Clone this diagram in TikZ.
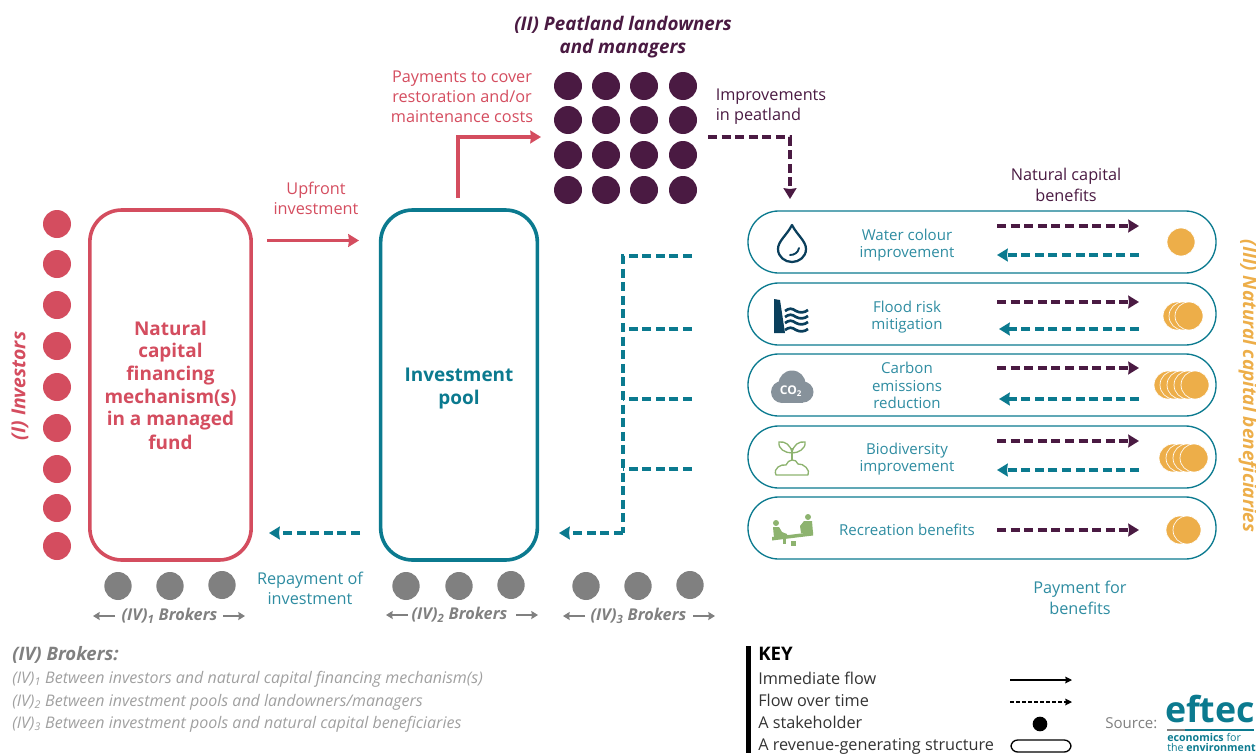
\documentclass[tikz,border=0pt]{standalone}
\usepackage{fontspec}
\setmainfont{Open Sans}
\usetikzlibrary{arrows.meta,positioning,shapes.geometric}
\definecolor{cred}{HTML}{D44D5F}
\definecolor{cteal}{HTML}{0B7A8F}
\definecolor{ctealtx}{HTML}{2E8CA1}
\definecolor{cplum}{HTML}{4A1A42}
\definecolor{cgold}{HTML}{EDAE49}
\definecolor{cgrey}{HTML}{808080}
\definecolor{cgreyl}{HTML}{A0A0A0}
\definecolor{cnavy}{HTML}{0A3F5C}
\definecolor{cgreen}{HTML}{8DB36F}
\definecolor{cslate}{HTML}{87929B}
\newcommand{\fs}[1]{\fontsize{#1}{#1}\selectfont}
\tikzset{
 x=0.75pt,y=-0.75pt,
 dotb/.style={circle,minimum size=21pt,inner sep=0pt,fill=#1},
 brk/.style={ellipse,minimum width=20.5pt,minimum height=21pt,inner sep=0pt,fill=cgrey},
 coin/.style={circle,minimum size=21pt,inner sep=0pt,fill=cgold,draw=white,line width=.5pt},
 bigbox/.style={draw=#1,line width=2.7pt,rounded corners=24pt,fill=white,text=#1,font=\fs{14.2}\bfseries,align=center,inner sep=0pt},
 pill/.style={draw=cteal,line width=1pt,rounded corners=23pt,minimum width=351pt,minimum height=46.5pt,inner sep=0pt},
 lab/.style={font=\fs{12.2},align=center,inner sep=0pt,text=ctealtx},
 pilltx/.style={lab,font=\fs{11.3},text depth=0pt},
 immed/.style={draw=#1,line width=2.3pt,-{Stealth[length=8pt,width=9.5pt,inset=.5pt]}},
 flow/.style={draw=#1,dash pattern=on 6.8pt off 3.4pt,line width=2.3pt,-{Stealth[length=8pt,width=9.5pt,inset=.5pt]}},
 flowp/.style={draw=#1,dash pattern=on 6.8pt off 3.4pt,line width=2.3pt},
 brtx/.style={font=\fs{12.2}\bfseries\itshape,text=cgrey,inner sep=0pt},
 grarr/.style={draw=cgrey,line width=1.3pt,-{Stealth[length=5pt,width=6pt,inset=.5pt]}},
 keytx/.style={font=\fs{12.2},anchor=base west,inner sep=0pt,text=black!80},
 notetx/.style={font=\fs{12}\itshape,anchor=base west,inner sep=0pt,text=cgreyl},
 keyarr/.style={line width=1pt,-{Stealth[length=5pt,width=5pt,inset=.5pt]}},
}
\begin{document}
\begin{tikzpicture}
\useasboundingbox (0,0) rectangle (1256,753);
% investors
\foreach \n/\y in {1/224,2/264,3/305,4/346,5/387,6/428,7/469,8/508,9/546}
  \node[dotb=cred] (inv\n) at (57,\y) {};
\node[rotate=90,font=\fs{14.5}\bfseries\itshape,text=cred,inner sep=0pt] (invlab) at (20,386) {(I) Investors};
% big boxes
\node[bigbox=cred,minimum width=121pt,minimum height=262.5pt] (mech) at (170.5,385) {Natural\\[2.5pt]capital\\[2.5pt]financing\\[2.5pt]mechanism(s)\\[2.5pt]in a managed\\[2.5pt]fund};
\node[bigbox=cteal,minimum width=117.5pt,minimum height=262.5pt] (pool) at (459,385) {};
\node[font=\fs{14.2}\bfseries,text=cteal,align=center,inner sep=0pt] (pooltx) at (459,388.5) {Investment\\[2.5pt]pool};
% peatland
\foreach \i/\x in {1/568,2/606,3/644,4/683}
 \foreach \j/\y in {1/86,2/120,3/155,4/190}
  \node[dotb=cplum] (p\i\j) at (\x,\y) {};
\node[font=\fs{14.1}\bfseries\itshape,text=cplum,align=center,inner sep=0pt] (peatlab) at (623,37) {(II) Peatland landowners\\[3pt]and managers};
% flows top
\node[lab,text=cred] (paylab) at (462,97) {Payments to cover\\[2.8pt]restoration and/or\\[2.8pt]maintenance costs};
\node[lab,text=cplum,align=left] (implab) at (771,106.5) {Improvements\\[2.8pt]in peatland};
\node[lab,text=cred] (uplab) at (316,198) {Upfront\\[2.8pt]investment};
\node[lab,text=cplum] (benlab) at (1066,185) {Natural capital\\[2pt]benefits};
\node[lab] (replab) at (310,588) {Repayment of\\[2.8pt]investment};
\node[lab] (paybl) at (1080,598) {Payment for\\[2.2pt]benefits};
\coordinate (upA) at (267,240.5); \coordinate (upB) at (359,240.5);
\draw[immed=cred] (upA) -- (upB);
\coordinate (payA) at (458,198); \coordinate (payB) at (541,137);
\draw[immed=cred] (payA) |- (payB);
\coordinate (impA) at (708,137); \coordinate (impB) at (790,199);
\draw[flow=cplum] (impA) -| (impB);
% bus
\coordinate (busT) at (692,256); \coordinate (busB) at (623,533); \coordinate (busE) at (559,533);
\draw[flowp=cteal] (busT) -| (busB);
\draw[flow=cteal] (busB) -- (busE);
\foreach \y in {329,399,469}{
  \coordinate (bb\y) at (692,\y);
  \draw[flowp=cteal] (bb\y) -- (623,\y);
}
\coordinate (repA) at (360,533); \coordinate (repB) at (269,533);
\draw[flow=cteal] (repA) -- (repB);
% pills
\node[pill] (r1) at (982,242) {};
\node[pill] (r2) at (982,314) {};
\node[pill] (r3) at (982,385) {};
\node[pill] (r4) at (982,457) {};
\node[pill] (r5) at (982,528) {};
\node[pilltx] (t1) at (907,243) {Water colour\\[1.2pt]improvement};
\node[pilltx] (t2) at (907,315) {Flood risk\\[1.2pt]mitigation};
\node[pilltx] (t3) at (907,385.5) {Carbon\\[2pt]emissions\\[2pt]reduction};
\node[pilltx] (t4) at (907,457) {Biodiversity\\[1.2pt]improvement};
\node[pilltx] (t5) at (907,530) {Recreation benefits};
\foreach \n/\y in {1/226,2/302,3/368,4/441,5/530}{
  \coordinate (fa\n) at (997,\y); \coordinate (fb\n) at (1139,\y);
  \draw[flow=cplum] (fa\n) -- (fb\n);
}
\foreach \n/\y/\xx in {1/255/997,2/329/999,3/399/999,4/470/997}{
  \coordinate (ga\n) at (1139,\y); \coordinate (gb\n) at (\xx,\y);
  \draw[flow=cteal] (ga\n) -- (gb\n);
}
% coins
\node[coin] (c1) at (1181,242) {};
\foreach \n/\x in {1/1177,2/1183,3/1189} \node[coin] (cb\n) at (\x,316) {};
\foreach \n/\x in {1/1168,2/1174,3/1181,4/1188,5/1195} \node[coin] (cc\n) at (\x,385) {};
\foreach \n/\x in {1/1173,2/1180,3/1187,4/1194} \node[coin] (cd\n) at (\x,458) {};
\foreach \n/\x in {1/1180,2/1187} \node[coin] (ce\n) at (\x,530) {};
\node[rotate=-90,font=\fs{14.2}\bfseries\itshape,text=cgold,inner sep=0pt] (benef) at (1248,386) {(III) Natural capital beneficiaries};
% icon: drop
\draw[cnavy,line width=1.7pt,line join=round] (792,225) .. controls (787,235) and (778,241) .. (778,249) .. controls (778,257) and (785,262) .. (792,262) .. controls (799,262) and (806,257) .. (806,249) .. controls (806,241) and (797,235) .. (792,225) -- cycle;
\draw[cnavy,line width=1.4pt,line cap=round] (790,255) .. controls (794,255) and (798,253) .. (799,248);
% icon: flood
\fill[cnavy] (774,299) -- (780,300) -- (785,333) -- (774,333) -- cycle;
\foreach \y in {311,317,323,330}
  \draw[cnavy,line width=2pt] (785,\y) .. controls (789,\y-3) and (792,\y-3) .. (796,\y) .. controls (800,\y+2) and (804,\y+2) .. (808,\y-1);
% icon: CO2
\fill[cslate] (782,392) circle (11);
\fill[cslate] (792,384) circle (13.5);
\fill[cslate] (803,392) circle (10.5);
\fill[cslate] (782,392) rectangle (803,402.5);
\node[font=\fs{9}\bfseries,text=white,inner sep=0pt] (co2) at (791,391) {CO\textsubscript{2}};
% icon: plant
\draw[cgreen,line width=1pt,line join=round] (776,475) .. controls (773,468) and (781,464) .. (786,465) .. controls (788,459) and (796,458) .. (798,464) .. controls (803,463) and (811,470) .. (808,475) -- cycle;
\draw[cgreen,line width=1pt] (792,460) -- (792,448);
\draw[cgreen,line width=1pt] (792,453) .. controls (785,453) and (778,449) .. (779,442) .. controls (785,441) and (791,445) .. (792,453);
\draw[cgreen,line width=1pt] (792,453) .. controls (798,453) and (806,449) .. (805,442) .. controls (799,441) and (793,445) .. (792,453);
% icon: seesaw
\fill[cgreen] (772,537) -- (813,532) -- (813,535.5) -- (772,540.5) -- cycle;
\fill[cgreen] (776,523) circle (3);
\fill[cgreen] (808,517) circle (3);
\fill[cgreen] (773,527) -- (779,527) -- (782,532) -- (787,534) -- (787,537) -- (774,538) -- cycle;
\fill[cgreen] (801,533) -- (800,526) -- (804,521) -- (812,521) -- (813,533) -- cycle;
\fill[cgreen] (783,538) rectangle (786,544);
\fill[cgreen] (791,541) rectangle (796,546);
% brokers
\foreach \n/\x/\y in {1/118/586,2/170/586,3/222/585,4/406/586,5/459/586,6/511/585,7/586/586,8/638/586,9/690/585}
  \node[brk] (b\n) at (\x,\y) {};
\node[brtx] (bl1) at (169.5,616) {(IV)\textsubscript{1} Brokers};
\node[brtx] (bl2) at (459.5,615) {(IV)\textsubscript{2} Brokers};
\node[brtx] (bl3) at (638.5,616) {(IV)\textsubscript{3} Brokers};
\foreach \n/\xa/\xb/\y in {1/93/245/616,2/386/538/615,3/563/715/616}{
  \coordinate (la\n) at (\xa,\y); \coordinate (lb\n) at (\xb,\y);
  \coordinate (ma\n) at (\xa+22,\y); \coordinate (mb\n) at (\xb-22,\y);
  \draw[grarr] (ma\n) -- (la\n);
  \draw[grarr] (mb\n) -- (lb\n);
}
% notes
\node[notetx,font=\fs{13.9}\bfseries\itshape,text=cgrey] (nh) at (12,660) {(IV) Brokers:};
\node[notetx] (n1) at (12,683) {(IV)\textsubscript{1} Between investors and natural capital financing mechanism(s)};
\node[notetx] (n2) at (12,706) {(IV)\textsubscript{2} Between investment pools and landowners/managers};
\node[notetx] (n3) at (12,728) {(IV)\textsubscript{3} Between investment pools and natural capital beneficiaries};
% key
\fill[black] (746,646) rectangle (751,753);
\node[keytx,font=\fs{14}\bfseries,text=black] (kh) at (758,660) {KEY};
\node[keytx] (k1) at (758,684) {Immediate flow};
\node[keytx] (k2) at (758,706) {Flow over time};
\node[keytx] (k3) at (758,728) {A stakeholder};
\node[keytx] (k4) at (758,750) {A revenue-generating structure};
\coordinate (kaA) at (1010,680); \coordinate (kaB) at (1072,680);
\draw[keyarr] (kaA) -- (kaB);
\coordinate (kbA) at (1010,702); \coordinate (kbB) at (1072,702);
\draw[keyarr,dash pattern=on 3pt off 1.5pt] (kbA) -- (kbB);
\node[circle,fill=black,minimum size=11pt,inner sep=0pt] (kd) at (1040,724) {};
\node[draw=black,line width=1pt,rounded corners=5pt,minimum width=45pt,minimum height=9pt,inner sep=0pt] (kp) at (1041,746) {};
% source
\node[keytx,font=\fs{11.3},text=cgrey] (src) at (1105,728) {Source:};
\node[font=\fs{26.8}\bfseries,text=cteal,inner sep=0pt,anchor=base] (eft) at (1210,722) {eftec};
\fill[cgrey] (1167,729) rectangle (1185,731);
\fill[cteal] (1185,729) rectangle (1254,731);
\node[font=\fs{8}\bfseries,text=cteal,inner sep=0pt,anchor=base west] (ec1) at (1167,741) {economics \textmd{for}};
\node[font=\fs{8}\bfseries,text=cteal,inner sep=0pt,anchor=base west] (ec2) at (1167,751) {\textmd{the} environment};
\end{tikzpicture}
\end{document}
